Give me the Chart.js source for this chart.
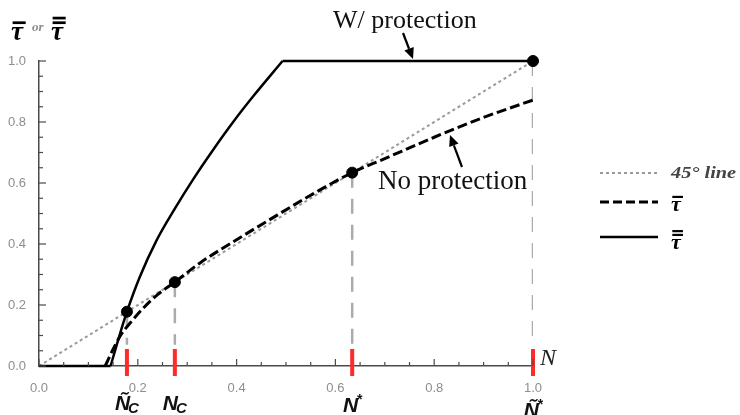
<!DOCTYPE html>
<html>
<head>
<meta charset="utf-8">
<script src="https://cdn.jsdelivr.net/npm/chart.js@4.4.1/dist/chart.umd.min.js"></script>
<style>
  html, body { margin: 0; padding: 0; background: #fff; }
  canvas { display: block; }
</style>
</head>
<body>
<canvas id="c" width="740" height="415"></canvas>
<script>
// ---- data ----
const tickValues = [0, 0.2, 0.4, 0.6, 0.8, 1.0];
const line45X = [0, 1];
const line45Y = [0, 1];

// tau-bar (no protection), dashed
const tauBarX = [0.134, 0.15, 0.165, 0.184, 0.21, 0.24, 0.275, 0.326, 0.4, 0.461, 0.55, 0.634, 0.7, 0.8, 0.9, 1.0];
const tauBarY = [0, 0.055, 0.1, 0.14, 0.188, 0.234, 0.275, 0.338, 0.414, 0.474, 0.56, 0.634, 0.68, 0.75, 0.815, 0.872];

// tau-double-bar (with protection), solid
const tau2FlatX = [0, 0.145, null, 0.493, 1.0];
const tau2FlatY = [0, 0, null, 1.0, 1.0];
const tau2RiseX = [0.145, 0.162, 0.178, 0.204, 0.238, 0.275, 0.312, 0.353, 0.393, 0.434, 0.493];
const tau2RiseY = [0, 0.095, 0.178, 0.292, 0.412, 0.516, 0.612, 0.71, 0.80, 0.885, 1.0];

// marked points and their labels
const markX = [0.178, 0.275, 0.634, 1.0];
const markY = [0.178, 0.275, 0.634, 1.0];
const markLabels = ["Ñ", "N", "N", "Ñ"];
const markSubs = ["C", "C", "*", "*"];
const guideBottom = 0.07;
const redTop = 0.056;
const redBottom = -0.033;

const legendLabels = ["45\u00B0 line", "\u03C4", "\u03C4"];
const legendBars = [0, 1, 2];
const titleOr = "or";
const annotW = "W/ protection";
const annotNo = "No protection";

// ---- helper datasets built from arrays ----
function pts(xs, ys) { return xs.map((x, i) => ({ x: x, y: ys[i] })); }
const guidePts = [];
const redPts = [];
markX.forEach((x, i) => {
  guidePts.push({ x: x, y: markY[i] }, { x: x, y: guideBottom }, { x: x, y: null });
  redPts.push({ x: x, y: redTop }, { x: x, y: redBottom }, { x: x, y: null });
});

const axisColor = '#4a4a4a';

const tickPlugin = {
  id: 'insideTicks',
  afterDatasetsDraw(chart) {
    const ctx = chart.ctx;
    const xs = chart.scales.x, ys = chart.scales.y;
    const ca = chart.chartArea;
    ctx.save();
    ctx.strokeStyle = axisColor;
    ctx.lineWidth = 1.2;
    for (let k = 0; k <= 20; k++) {
      const v = k * 0.05;
      const major = k % 4 === 0;
      const len = major ? 7 : 4;
      const px = xs.getPixelForValue(v);
      ctx.beginPath(); ctx.moveTo(px, ca.bottom); ctx.lineTo(px, ca.bottom - len); ctx.stroke();
      const py = ys.getPixelForValue(v);
      ctx.beginPath(); ctx.moveTo(ca.left, py); ctx.lineTo(ca.left + len, py); ctx.stroke();
    }
    ctx.restore();
  }
};

function arrow(ctx, x1, y1, x2, y2) {
  const ang = Math.atan2(y2 - y1, x2 - x1);
  const hl = 11, hw = 5;
  const bx = x2 - hl * Math.cos(ang), by = y2 - hl * Math.sin(ang);
  ctx.beginPath(); ctx.moveTo(x1, y1); ctx.lineTo(bx, by);
  ctx.lineWidth = 2.2; ctx.strokeStyle = '#000'; ctx.stroke();
  ctx.beginPath();
  ctx.moveTo(x2, y2);
  ctx.lineTo(bx + hw * Math.sin(ang), by - hw * Math.cos(ang));
  ctx.lineTo(bx - hw * Math.sin(ang), by + hw * Math.cos(ang));
  ctx.closePath(); ctx.fillStyle = '#000'; ctx.fill();
}

// tau glyph with n overbars
function drawTau(ctx, x, base, size, nbars) {
  ctx.font = 'bold italic ' + size + 'px "Liberation Serif"';
  ctx.fillStyle = '#000';
  ctx.fillText('\u03C4', x, base);
  const w = ctx.measureText('\u03C4').width;
  const th = Math.max(2, size * 0.1);
  const gap = size * 0.09;
  let y = base - size * 0.5 - gap - th;
  for (let b = 0; b < nbars; b++) {
    ctx.fillRect(x + size * 0.06, y, w + size * 0.04, th);
    y -= th + gap * 0.8;
  }
}

const textPlugin = {
  id: 'texts',
  afterDraw(chart) {
    const ctx = chart.ctx;
    const xs = chart.scales.x;
    ctx.save();
    ctx.textBaseline = 'alphabetic';
    ctx.textAlign = 'left';
    // y title
    drawTau(ctx, 11, 40, 27, 1);
    drawTau(ctx, 51, 40, 27, 2);
    ctx.font = 'italic bold 13px "Liberation Serif"';
    ctx.fillStyle = '#8a8a8a';
    ctx.fillText(titleOr, 32, 31);

    // annotations
    ctx.fillStyle = '#111';
    ctx.font = '26px "Liberation Serif"';
    ctx.fillText(annotW, 333, 28);
    ctx.font = '27px "Liberation Serif"';
    ctx.fillText(annotNo, 378, 189);
    arrow(ctx, 403, 33, 413, 59);
    arrow(ctx, 462, 167, 450, 135);

    // N axis label
    ctx.fillStyle = '#222';
    ctx.font = 'italic 24px "Liberation Serif"';
    ctx.fillText('N', 540, 365);

    // bottom labels
    ctx.fillStyle = '#111';
    const base = [410, 410, 412, 417];
    markX.forEach((x, i) => {
      const px = xs.getPixelForValue(x);
      const subC = markSubs[i] === 'C';
      const mainFont = 'bold italic 21px "Liberation Sans"';
      const subFont = subC ? 'bold italic 15px "Liberation Sans"' : 'bold 14px "Liberation Sans"';
      ctx.font = mainFont;
      const w = ctx.measureText(markLabels[i]).width;
      ctx.font = subFont;
      const ws = ctx.measureText(markSubs[i]).width;
      const left = px - (w + ws) / 2 + 1;
      ctx.font = mainFont;
      ctx.fillText(markLabels[i], left, base[i]);
      ctx.font = subFont;
      ctx.fillText(markSubs[i], left + w - (subC ? 2 : 1), subC ? base[i] + 3 : base[i] - 8);
    });

    // legend
    const lx1 = 600, lx2 = 658, tx = 671;
    ctx.lineCap = 'butt';
    ctx.beginPath(); ctx.setLineDash([3, 3]); ctx.strokeStyle = '#999'; ctx.lineWidth = 2;
    ctx.moveTo(lx1, 173); ctx.lineTo(lx2, 173); ctx.stroke();
    ctx.beginPath(); ctx.setLineDash([9, 4]); ctx.strokeStyle = '#000'; ctx.lineWidth = 3;
    ctx.moveTo(lx1, 202); ctx.lineTo(lx2, 202); ctx.stroke();
    ctx.beginPath(); ctx.setLineDash([]); ctx.strokeStyle = '#000'; ctx.lineWidth = 2.5;
    ctx.moveTo(lx1, 237); ctx.lineTo(lx2, 237); ctx.stroke();
    ctx.save();
    ctx.fillStyle = '#444';
    ctx.font = 'bold italic 16px "Liberation Serif"';
    ctx.translate(tx, 178);
    ctx.scale(1.27, 1);
    ctx.fillText(legendLabels[0], 0, 0);
    ctx.restore();
    drawTau(ctx, tx, 211, 22, legendBars[1]);
    drawTau(ctx, tx, 249, 22, legendBars[2]);
    ctx.restore();
  }
};

new Chart(document.getElementById('c'), {
  type: 'line',
  data: {
    datasets: [
      { label: 'points', data: pts(markX, markY), showLine: false, pointRadius: 5.5,
        pointBackgroundColor: '#000', pointBorderColor: '#000', order: 0, clip: false },
      { label: 'red', data: redPts, borderColor: '#ff2a2a', borderWidth: 4, pointRadius: 0,
        spanGaps: false, clip: false, order: 1 },
      { label: 'tau2rise', data: pts(tau2RiseX, tau2RiseY), borderColor: '#000', borderWidth: 2.5,
        pointRadius: 0, cubicInterpolationMode: 'monotone', order: 2, clip: false },
      { label: 'tau2flat', data: pts(tau2FlatX, tau2FlatY), borderColor: '#000', borderWidth: 2.5,
        pointRadius: 0, spanGaps: false, order: 2, clip: false },
      { label: 'taubar', data: pts(tauBarX, tauBarY), borderColor: '#000', borderWidth: 3,
        borderDash: [10, 4], pointRadius: 0, cubicInterpolationMode: 'monotone', order: 3 },
      { label: '45', data: pts(line45X, line45Y), borderColor: '#9a9a9a', borderWidth: 2,
        borderDash: [3, 3], pointRadius: 0, order: 4 },
      { label: 'guides', data: guidePts, borderColor: '#ababab', borderWidth: 2.5,
        borderDash: [15, 11], pointRadius: 0, spanGaps: false, order: 5 }
    ]
  },
  options: {
    responsive: false,
    animation: false,
    events: [],
    layout: { padding: { left: 0, top: 61, right: 207, bottom: 0 } },
    plugins: { legend: { display: false }, tooltip: { enabled: false } },
    scales: {
      x: {
        type: 'linear', min: 0, max: 1,
        afterFit(s) { s.height = 49; },
        afterBuildTicks(s) { s.ticks = tickValues.map(v => ({ value: v })); },
        grid: { display: false },
        border: { display: true, color: axisColor, width: 1.5 },
        ticks: { color: '#8e8e8e', font: { family: 'Liberation Sans', size: 13 }, padding: 7,
                 maxRotation: 0, callback: v => Number(v).toFixed(1) }
      },
      y: {
        type: 'linear', min: 0, max: 1,
        afterFit(s) { s.width = 39; },
        afterBuildTicks(s) { s.ticks = tickValues.map(v => ({ value: v })); },
        grid: { display: false },
        border: { display: true, color: axisColor, width: 1.5 },
        ticks: { color: '#8e8e8e', font: { family: 'Liberation Sans', size: 13 }, padding: 5,
                 callback: v => Number(v).toFixed(1) }
      }
    }
  },
  plugins: [tickPlugin, textPlugin]
});
</script>
</body>
</html>
